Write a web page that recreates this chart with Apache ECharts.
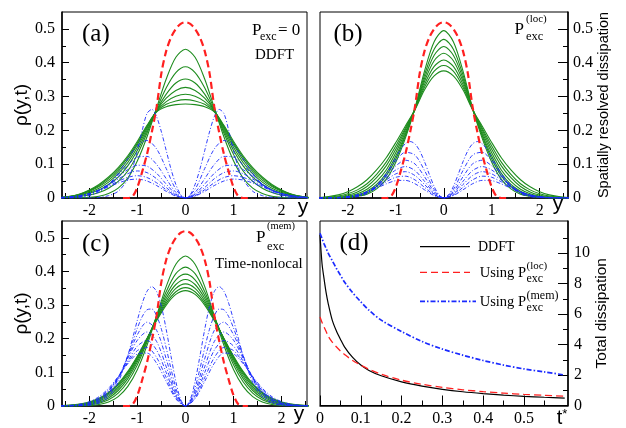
<!DOCTYPE html>
<html><head><meta charset="utf-8">
<script src="https://cdn.jsdelivr.net/npm/echarts@6/dist/echarts.min.js"></script>
<style>html,body{margin:0;padding:0;background:#fff}#c{width:626px;height:428px}</style>
</head><body><div id="c"></div>
<script>
// ---- grids of positions (y >= 0; profiles are symmetric in y) ----
const yHalf = [0,0.2,0.4,0.6,0.8,1.0,1.2,1.4,1.6,1.8,2.0,2.2,2.4,2.6];
const yFine = [0,0.1,0.2,0.3,0.4,0.5,0.6,0.7,0.8,0.9,1.0,1.1,1.2,1.3];
const yB1 = [0,0.1,0.2,0.3,0.4,0.5,0.6,0.7,0.8,0.9,1.0,1.1,1.2,1.4,1.6,1.8,2.0,2.2,2.4,2.6];

// initial density (red dashed, same in a, b, c) on yFine
const rhoInit = [0.52,0.515,0.50,0.475,0.435,0.37,0.27,0.195,0.13,0.078,0.032,0.005,0,0];

// panel (a) DDFT densities (green) on yHalf
const densA = [
  [0.440,0.416,0.352,0.267,0.181,0.110,0.059,0.029,0.013,0.005,0.002,0.001,0,0],
  [0.388,0.371,0.326,0.263,0.192,0.129,0.080,0.049,0.029,0.016,0.009,0.005,0.002,0],
  [0.352,0.340,0.307,0.260,0.199,0.141,0.095,0.062,0.040,0.024,0.014,0.007,0.003,0.001],
  [0.327,0.318,0.295,0.259,0.205,0.150,0.105,0.072,0.047,0.029,0.017,0.009,0.003,0.001],
  [0.307,0.301,0.285,0.257,0.209,0.158,0.113,0.079,0.053,0.034,0.020,0.010,0.004,0.001],
  [0.291,0.287,0.277,0.256,0.212,0.163,0.120,0.085,0.058,0.037,0.022,0.011,0.005,0.001],
  [0.278,0.276,0.270,0.255,0.215,0.168,0.125,0.090,0.062,0.040,0.024,0.012,0.005,0.001]
];
// panel (a) dissipation (blue): first on yB1, rest on yHalf
const dissA1 = [0,0.01,0.04,0.085,0.14,0.195,0.24,0.262,0.25,0.2,0.14,0.09,0.055,0.02,0.007,0.002,0,0,0,0];
const dissA = [
  [0,0.026,0.087,0.145,0.170,0.155,0.116,0.073,0.039,0.018,0.007,0.0025,0.0008,0],
  [0,0.0167,0.057,0.099,0.123,0.121,0.098,0.068,0.041,0.022,0.010,0.004,0.0015,0.0005],
  [0,0.0118,0.041,0.073,0.094,0.097,0.084,0.063,0.041,0.024,0.012,0.0055,0.0023,0.0008],
  [0,0.0089,0.031,0.057,0.075,0.080,0.072,0.056,0.039,0.024,0.013,0.0065,0.003,0.0012],
  [0,0.0069,0.0245,0.045,0.0605,0.066,0.061,0.0495,0.0355,0.0228,0.0131,0.0069,0.0032,0.0014],
  [0,0.0055,0.0197,0.0368,0.0502,0.0559,0.0532,0.0443,0.0329,0.0219,0.0132,0.0073,0.0036,0.0017]
];
// panel (b) P_exc(loc)
const densB = [
  [0.495,0.462,0.376,0.266,0.177,0.106,0.055,0.027,0.011,0.005,0.0014,0,0,0],
  [0.469,0.440,0.364,0.265,0.184,0.115,0.065,0.034,0.015,0.0064,0.0023,0.0007,0,0],
  [0.448,0.422,0.354,0.264,0.189,0.124,0.073,0.040,0.020,0.009,0.0036,0.0012,0.0004,0],
  [0.428,0.406,0.345,0.264,0.195,0.134,0.083,0.049,0.026,0.0125,0.0055,0.002,0.0007,0],
  [0.408,0.389,0.336,0.263,0.202,0.144,0.095,0.060,0.034,0.018,0.0086,0.0036,0.0014,0.0004],
  [0.392,0.375,0.328,0.262,0.207,0.154,0.106,0.070,0.042,0.024,0.0125,0.0057,0.0025,0.0008],
  [0.376,0.361,0.320,0.261,0.213,0.164,0.119,0.083,0.054,0.033,0.0185,0.0093,0.0044,0.0016]
];
// first (b) dissipation on yB1, rest on yHalf
const dissB1 = [0,0.0091,0.034,0.0694,0.107,0.1391,0.160,0.167,0.1605,0.1437,0.120,0.0949,0.0706,0.0332,0.0128,0.004,0.0011,0.0002,0,0];
const dissB = [
  [0,0.0253,0.0812,0.1269,0.1352,0.1096,0.0710,0.0377,0.0163,0.0059,0.0018,0.0005,0.0001,0],
  [0,0.0192,0.0627,0.1007,0.1117,0.0950,0.0652,0.0369,0.0175,0.0070,0.0024,0.0007,0.0002,0],
  [0,0.0148,0.0492,0.0810,0.093,0.0828,0.0600,0.0362,0.0185,0.0081,0.0031,0.0010,0.0003,0.0001],
  [0,0.0119,0.0398,0.0664,0.0779,0.0713,0.0533,0.0335,0.0179,0.0083,0.0033,0.0011,0.0003,0.0001],
  [0,0.0093,0.0314,0.0535,0.0645,0.0613,0.0480,0.0318,0.0181,0.0090,0.0039,0.0015,0.0005,0.0001],
  [0,0.0071,0.0242,0.0421,0.0521,0.0512,0.0417,0.0290,0.0175,0.0092,0.0043,0.0017,0.0006,0.0002]
];
// panel (c) P_exc(mem), time-nonlocal
const densC = [
  [0.446,0.4215,0.3557,0.2681,0.1805,0.1085,0.0582,0.0279,0.0120,0.0046,0.0016,0.0005,0.0001,0],
  [0.413,0.3935,0.3402,0.2669,0.1901,0.1229,0.0721,0.0384,0.0185,0.0081,0.0032,0.0012,0.0004,0.0001],
  [0.392,0.3752,0.3292,0.2646,0.1949,0.1316,0.0814,0.0461,0.0240,0.0114,0.0050,0.0020,0.0007,0.0002],
  [0.376,0.3612,0.3202,0.2619,0.1977,0.1377,0.0885,0.0525,0.0287,0.0145,0.0068,0.0029,0.0012,0.0004],
  [0.363,0.3496,0.3125,0.2591,0.1994,0.1423,0.0943,0.0579,0.0330,0.0175,0.0086,0.0039,0.0017,0.0006],
  [0.352,0.3398,0.3058,0.2564,0.2004,0.1460,0.0991,0.0627,0.0370,0.0203,0.0104,0.0050,0.0022,0.0009],
  [0.343,0.3317,0.3001,0.2539,0.2009,0.1487,0.1029,0.0666,0.0403,0.0228,0.0121,0.0060,0.0028,0.0012]
];
// first two (c) dissipation curves on yB1, rest on yHalf
const dissC1 = [0,0.0193,0.0726,0.1475,0.2272,0.2956,0.3401,0.355,0.3412,0.3054,0.2558,0.2017,0.1500,0.0706,0.0272,0.0086,0.0022,0.0005,0.0001,0];
const dissC2 = [0,0.0141,0.0536,0.1099,0.1720,0.2280,0.2685,0.2883,0.2862,0.2657,0.2320,0.1912,0.1502,0.0798,0.0345,0.0126,0.0038,0.0010,0.0002,0];
const dissC = [
  [0,0.0429,0.1400,0.2248,0.2493,0.2122,0.1455,0.0824,0.0391,0.0157,0.0054,0.0016,0.0004,0.0001],
  [0,0.0351,0.1164,0.1916,0.2200,0.1958,0.1418,0.0856,0.0438,0.0192,0.0072,0.0024,0.0007,0.0002],
  [0,0.0297,0.0994,0.1659,0.1948,0.1782,0.1333,0.0837,0.0449,0.0206,0.0082,0.0028,0.0009,0.0002],
  [0,0.0249,0.0844,0.1440,0.1738,0.1649,0.1292,0.0856,0.0487,0.0241,0.0104,0.0039,0.0013,0.0004],
  [0,0.0213,0.0731,0.1270,0.1573,0.1544,0.1259,0.0876,0.0527,0.0277,0.0128,0.0052,0.0019,0.0006]
];
// panel (d) total dissipation vs t*
const tStar   = [0,0.005,0.01,0.015,0.02,0.03,0.04,0.05,0.06,0.08,0.1,0.12,0.15,0.2,0.25,0.3,0.35,0.4,0.45,0.5,0.55,0.6];
const totDDFT = [11.2,9.3,8.3,7.4,6.7,5.6,4.9,4.35,3.85,3.15,2.65,2.3,1.95,1.55,1.27,1.06,0.9,0.78,0.68,0.6,0.54,0.49];
const totLoc  = [5.8,5.45,5.15,4.85,4.55,4.15,3.85,3.58,3.35,2.95,2.65,2.38,2.05,1.66,1.39,1.19,1.03,0.91,0.81,0.73,0.67,0.61];
const totMem  = [11.3,10.95,10.6,10.3,10.0,9.5,9.0,8.55,8.1,7.4,6.8,6.25,5.6,4.85,4.2,3.7,3.3,2.95,2.65,2.4,2.2,2.0];

// tick values
const yTicks = [-2,-1,0,1,2];
const yMinor = [-2.5,-1.5,-0.5,0.5,1.5,2.5];
const rhoTicks = [0,0.1,0.2,0.3,0.4,0.5];
const rhoMinor = [0.05,0.15,0.25,0.35,0.45];
const tTicks = [0,0.1,0.2,0.3,0.4,0.5];
const tMinor = [0.05,0.15,0.25,0.35,0.45,0.55];
const totTicks = [0,2,4,6,8,10];
const totMinor = [1,3,5,7,9,11];

function mirror(xs, vs){
  const out = [];
  for (let i = xs.length-1; i > 0; i--) out.push([-xs[i], vs[i]]);
  for (let i = 0; i < xs.length; i++) out.push([xs[i], vs[i]]);
  return out;
}
function zip(xs, vs){ return xs.map((x,i)=>[x, vs[i]]); }

const SERIF = '"Liberation Serif","Times New Roman",serif';
const SANS = '"Liberation Sans",Arial,sans-serif';
const GREEN = '#1e8c1e', RED = '#ff2020', BLUE = '#1a2aff';

const gridsPx = [
  {left:62, top:12, width:245, height:186},
  {left:320, top:12, width:248, height:186},
  {left:62, top:221, width:245, height:185},
  {left:320, top:221, width:248, height:185}
];

function xAxes(g, min, max, ticks, minor, name, nameGap, namePad){
  return [
    {type:'value', gridIndex:g, position:'bottom', min, max,
     axisLine:{show:true, onZero:false, lineStyle:{color:'#000', width:1.5}},
     axisTick:{show:true, inside:true, length:10, customValues:ticks, lineStyle:{color:'#000', width:1}},
     axisLabel:{customValues:ticks, fontFamily:SERIF, fontSize:16, color:'#000', margin:5},
     splitLine:{show:false},
     name:name, nameLocation:'end', nameGap:nameGap,
     nameTextStyle:{fontFamily:SANS, fontSize:21, color:'#000', align:'center', verticalAlign:'middle', padding:[namePad,0,0,0],
       rich:{t:{fontFamily:SANS, fontSize:20, color:'#000'}, s:{fontFamily:SANS, fontSize:13, color:'#000', verticalAlign:'top'}}}
    },
    {type:'value', gridIndex:g, position:'bottom', min, max,
     axisLine:{show:false, onZero:false},
     axisTick:{show:true, inside:true, length:5, customValues:minor, lineStyle:{color:'#000', width:1}},
     axisLabel:{show:false}, splitLine:{show:false}}
  ];
}
function yAxes(g, pos, min, max, ticks, minor, name, nameGap, nameSize, majLen, minLen, labMargin){
  return [
    {type:'value', gridIndex:g, position:pos, min, max,
     axisLine:{show:true, onZero:false, lineStyle:{color:'#000', width:1.5}},
     axisTick:{show:true, inside:true, length:majLen, customValues:ticks, lineStyle:{color:'#000', width:1}},
     axisLabel:{customValues:ticks, fontFamily:SERIF, fontSize:16, color:'#000', margin:labMargin},
     splitLine:{show:false},
     name:name, nameLocation:'middle', nameGap:nameGap, nameRotate:90,
     nameTextStyle:{fontFamily:SANS, fontSize:nameSize, color:'#000'}
    },
    {type:'value', gridIndex:g, position:pos, min, max,
     axisLine:{show:false, onZero:false},
     axisTick:{show:true, inside:true, length:minLen, customValues:minor, lineStyle:{color:'#000', width:1}},
     axisLabel:{show:false}, splitLine:{show:false}}
  ];
}

const xAxis = [].concat(
  xAxes(0, -2.57, 2.53, yTicks, yMinor, 'y', -4, 18),
  xAxes(1, -2.58, 2.59, yTicks, yMinor, 'y', -10, 12),
  xAxes(2, -2.57, 2.53, yTicks, yMinor, 'y', -8, 17),
  xAxes(3, 0, 0.608, tTicks, tMinor, '{t|t}{s|*}', -6, 25)
);
const yAxis = [].concat(
  yAxes(0, 'left', 0, 0.55, rhoTicks, rhoMinor, 'ρ(y,t)', 30, 19, 7, 4, 7),
  yAxes(1, 'right', 0, 0.55, rhoTicks, rhoMinor, 'Spatially resolved dissipation', 21, 14.5, 10, 5, 5),
  yAxes(2, 'left', 0, 0.55, rhoTicks, rhoMinor, 'ρ(y,t)', 30, 19, 7, 4, 7),
  yAxes(3, 'right', 0, 12.1, totTicks, totMinor, 'Total dissipation', 24, 15.5, 10, 5, 6)
);

const series = [];
function addLine(g, data, style, z){
  series.push({type:'line', xAxisIndex:2*g, yAxisIndex:2*g, data, showSymbol:false, smooth:0.3,
    lineStyle:style, silent:true, z:z, animation:false});
}
const greenStyle = {color:GREEN, width:1.1};
const blueStyle = {color:BLUE, width:0.9, type:[4,2,1,2]};
const redStyle = {color:RED, width:2.2, type:[7,4]};

densA.forEach(a=>addLine(0, mirror(yHalf,a), greenStyle, 2));
addLine(0, mirror(yB1, dissA1), blueStyle, 3);
dissA.forEach(a=>addLine(0, mirror(yHalf,a), blueStyle, 3));
addLine(0, mirror(yFine, rhoInit), redStyle, 4);

densB.forEach(a=>addLine(1, mirror(yHalf,a), greenStyle, 2));
addLine(1, mirror(yB1, dissB1), blueStyle, 3);
dissB.forEach(a=>addLine(1, mirror(yHalf,a), blueStyle, 3));
addLine(1, mirror(yFine, rhoInit), redStyle, 4);

densC.forEach(a=>addLine(2, mirror(yHalf,a), greenStyle, 2));
addLine(2, mirror(yB1, dissC1), blueStyle, 3);
addLine(2, mirror(yB1, dissC2), blueStyle, 3);
dissC.forEach(a=>addLine(2, mirror(yHalf,a), blueStyle, 3));
addLine(2, mirror(yFine, rhoInit), redStyle, 4);

series.push({type:'line', name:'DDFT', xAxisIndex:6, yAxisIndex:6, data:zip(tStar,totDDFT), showSymbol:false, smooth:0.3, lineStyle:{color:'#000', width:1.2}, z:3});
series.push({type:'line', name:'Using P_exc(loc)', xAxisIndex:6, yAxisIndex:6, data:zip(tStar,totLoc), showSymbol:false, smooth:0.3, lineStyle:{color:RED, width:1.3, type:[7,4]}, z:4});
series.push({type:'line', name:'Using P_exc(mem)', xAxisIndex:6, yAxisIndex:6, data:zip(tStar,totMem), showSymbol:false, smooth:0.3, lineStyle:{color:BLUE, width:1.7, type:[5,2,1.5,2]}, z:4});

function txt(x, y, text, size, fam, align){
  return {type:'text', x:x, y:y, z:50, silent:true,
    style:{text:text, fill:'#000', font: size+'px '+(fam||SERIF), align:align||'left', verticalAlign:'middle'}};
}
const graphic = [
  txt(82, 34, '(a)', 25), txt(333.5, 34, '(b)', 25), txt(82, 244, '(c)', 25), txt(339.5, 243, '(d)', 25),
  // (a)
  txt(252, 31, 'P', 17), txt(260, 37, 'exc', 12), txt(278, 31, '= 0', 17), txt(255, 55, 'DDFT', 15),
  // (b)
  txt(514.5, 30, 'P', 17), txt(526, 19.5, '(loc)', 11), txt(526, 37, 'exc', 12.5),
  // (c)
  txt(256, 237.5, 'P', 17), txt(267, 226.5, '(mem)', 10.5), txt(267, 246.5, 'exc', 12.5), txt(215, 264, 'Time-nonlocal', 15),
  // (d) legend
  {type:'line', z:50, silent:true, shape:{x1:420, y1:246.7, x2:470, y2:246.7}, style:{stroke:'#000', lineWidth:1.2}},
  {type:'line', z:50, silent:true, shape:{x1:420, y1:272.3, x2:470, y2:272.3}, style:{stroke:RED, lineWidth:1.3, lineDash:[7,4]}},
  {type:'line', z:50, silent:true, shape:{x1:420, y1:301.3, x2:476, y2:301.3}, style:{stroke:BLUE, lineWidth:1.7, lineDash:[5,2,1.5,2]}},
  txt(478, 247, 'DDFT', 14),
  txt(479.7, 273, 'Using P', 14.5), txt(526.5, 266.5, '(loc)', 11), txt(526.5, 279, 'exc', 12),
  txt(479.7, 302, 'Using P', 14.5), txt(526.5, 295.5, '(mem)', 12), txt(526.5, 307.5, 'exc', 12)
];

const chart = echarts.init(document.getElementById('c'), null, {renderer:'canvas'});
chart.setOption({
  animation:false,
  backgroundColor:'#fff',
  grid: gridsPx.map(g=>Object.assign({show:true, borderColor:'#000', borderWidth:1, backgroundColor:'transparent', containLabel:false}, g)),
  xAxis, yAxis, series, graphic
});
</script></body></html>
